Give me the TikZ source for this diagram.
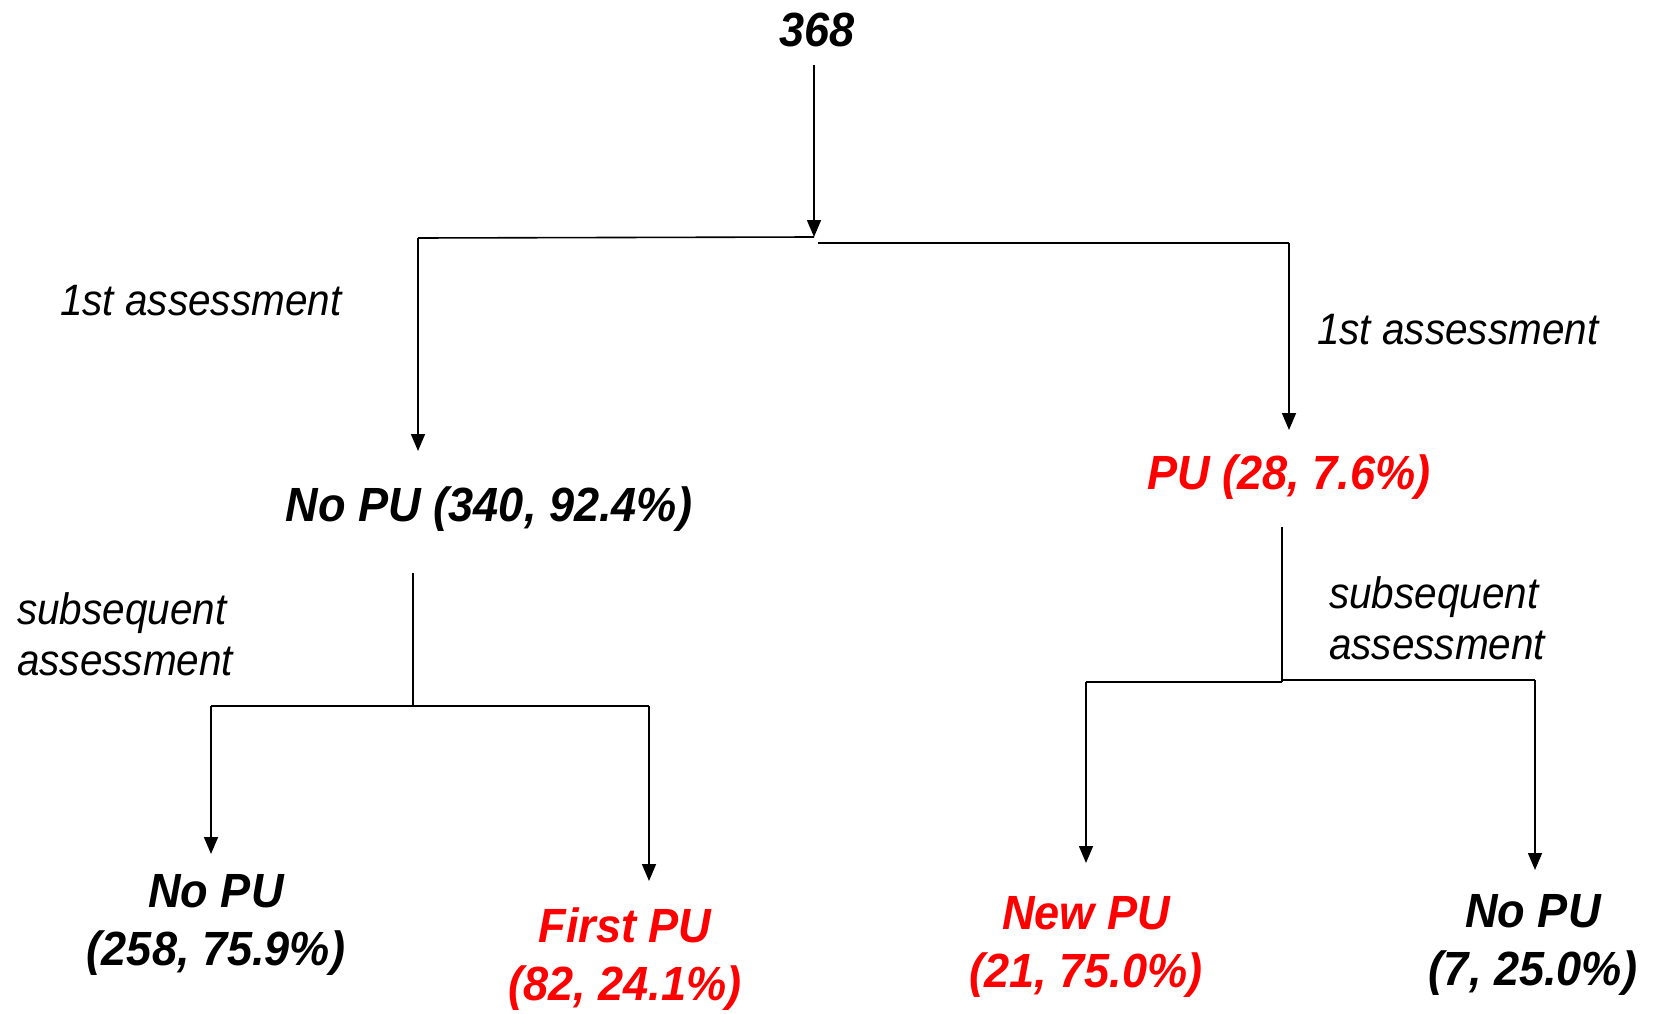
\documentclass[tikz,border=0pt]{standalone}
\usepackage{fontspec}
\setmainfont{Liberation Sans}
\usetikzlibrary{arrows.meta}
\definecolor{hitred}{RGB}{255,0,0}
\newcommand{\cnd}[1]{\scalebox{0.94}[1]{#1}}
\newcommand{\cnr}[1]{\scalebox{0.92}[1]{#1}}
\tikzset{
  wire/.style={line width=1.6pt, black},
  arr/.style={wire, -{Triangle[width=14pt,length=17pt]}},
  count/.style={anchor=base, inner sep=0pt, align=center,
    font=\fontsize{48}{58}\selectfont\bfseries\itshape},
  posit/.style={count, text=hitred},
  note/.style={anchor=base west, inner sep=0pt, align=left,
    font=\fontsize{44}{51}\selectfont\itshape},
}
\begin{document}
\begin{tikzpicture}[x=1pt, y=-1pt]
  \useasboundingbox (0,0) rectangle (1654,1014);

  % outcome labels (multi-line nodes sit on the baseline of their last line)
  \node[count] (root) at (817,47) {\cnd{368}};
  \node[count] (nopu) at (489,521) {\cnd{No PU (340, 92.4\%)}};
  \node[posit] (pu) at (1289,489) {\cnd{PU (28, 7.6\%)}};
  \node[count] (nn) at (216,965) {\cnd{No PU}\\\cnd{(258, 75.9\%)}};
  \node[posit] (nf) at (625,1000) {\cnd{First PU}\\\cnd{(82, 24.1\%)}};
  \node[posit] (pn) at (1086,987) {\cnd{New PU}\\\cnd{(21, 75.0\%)}};
  \node[count] (pp) at (1533,985) {\cnd{No PU}\\\cnd{(7, 25.0\%)}};

  % stage labels
  \node[note] (firstL) at (60,315) {\cnr{1st assessment}};
  \node[note] (firstR) at (1317,344) {\cnr{1st assessment}};
  \node[note] (subL) at (17,675) {\cnr{subsequent}\\\cnr{assessment}};
  \node[note] (subR) at (1329,659) {\cnr{subsequent}\\\cnr{assessment}};

  % branch points and arrow ends
  \coordinate (rootOut) at (814,65);
  \coordinate (split0) at (814,237);
  \coordinate (bar0L) at (418,238);
  \coordinate (bar0R) at (1289,243);
  \coordinate (bar0M) at (818,243);
  \coordinate (nopuIn) at (418,451);
  \coordinate (puIn) at (1289,430);

  \coordinate (nopuOut) at (413,573);
  \coordinate (split1) at (413,706);
  \coordinate (bar1L) at (211,706);
  \coordinate (bar1R) at (649,706);
  \coordinate (nnIn) at (211,854);
  \coordinate (nfIn) at (649,881);

  \coordinate (puOut) at (1282,527);
  \coordinate (split2) at (1282,682);
  \coordinate (split2b) at (1282,680);
  \coordinate (bar2L) at (1086,682);
  \coordinate (bar2R) at (1535,680);
  \coordinate (pnIn) at (1086,863);
  \coordinate (ppIn) at (1535,870);

  % first split
  \draw[arr] (rootOut) -- (split0);
  \draw[wire] (split0) -- (bar0L);
  \draw[wire] (bar0M) -- (bar0R);
  \draw[arr] (bar0L) -- (nopuIn);
  \draw[arr] (bar0R) -- (puIn);

  % split after no PU
  \draw[wire] (nopuOut) -- (split1);
  \draw[wire] (bar1L) -- (bar1R);
  \draw[arr] (bar1L) -- (nnIn);
  \draw[arr] (bar1R) -- (nfIn);

  % split after PU
  \draw[wire] (puOut) -- (split2);
  \draw[wire] (bar2L) -- (split2);
  \draw[wire] (split2b) -- (bar2R);
  \draw[arr] (bar2L) -- (pnIn);
  \draw[arr] (bar2R) -- (ppIn);
\end{tikzpicture}
\end{document}
